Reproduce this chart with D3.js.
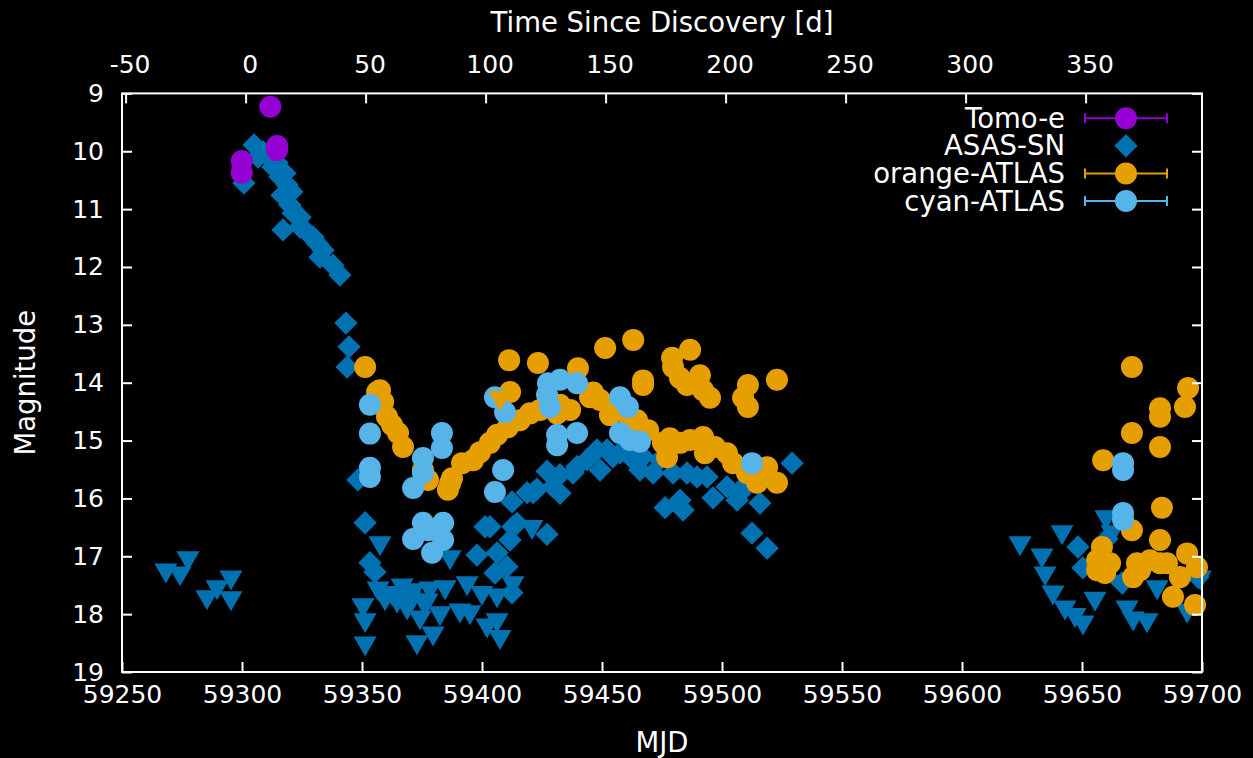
<!DOCTYPE html>
<html>
<head>
<meta charset="utf-8">
<script src="https://cdn.jsdelivr.net/npm/d3@7"></script>
<style>
  html, body { margin: 0; padding: 0; background: #000; }
  svg { display: block; }
  text { font-family: "DejaVu Sans", sans-serif; fill: #fff; }
</style>
</head>
<body>
<svg id="chart" width="1253" height="758"></svg>
<script>
// Light curve: magnitude vs MJD, with time since discovery on the top axis.
const discoveryMJD = 59301.5;

const xTicks = [59250, 59300, 59350, 59400, 59450, 59500, 59550, 59600, 59650, 59700];
const topTicks = [-50, 0, 50, 100, 150, 200, 250, 300, 350];
const yTicks = [9, 10, 11, 12, 13, 14, 15, 16, 17, 18, 19];

// Tomo-e detections
const tomoeMJD = [59311.8, 59314.6, 59314.6, 59299.9, 59299.9];
const tomoeMag = [9.23, 9.91, 9.98, 10.17, 10.37];

// ASAS-SN detections
const asasMJD = [
  59305.0, 59300.8, 59306.7, 59312.9, 59315.8, 59320.8, 59316.7, 59321.3, 59317.1, 59324.2,
  59329.6, 59332.5, 59337.9, 59340.8, 59308.8, 59311.7, 59314.6, 59317.9, 59318.8, 59320.0,
  59324.2, 59327.1, 59331.3, 59333.8, 59343.3, 59344.6, 59343.8, 59348.3, 59351.3, 59353.3,
  59355.4,
  59397.9, 59401.3, 59403.3, 59406.3, 59405.4, 59410.4, 59412.5, 59411.7, 59414.6, 59412.5,
  59412.9, 59418.8, 59421.3, 59422.9, 59427.1, 59427.1, 59429.6, 59432.5, 59432.5, 59437.9,
  59439.6, 59443.8, 59447.9, 59449.2, 59452.1, 59454.6, 59457.5, 59461.7, 59462.9, 59467.1,
  59465.8, 59471.3, 59476.3, 59483.8, 59482.5, 59479.6, 59485.4, 59489.6, 59493.8, 59496.3,
  59502.1, 59506.3, 59507.5, 59510.4, 59515.8, 59512.5, 59518.8, 59529.2, 59474.2,
  59648.3, 59650.4, 59666.7, 59698.3, 59660.4
];
const asasMag = [
  9.89, 10.55, 10.10, 10.27, 10.44, 10.70, 10.76, 11.07, 11.36, 11.31,
  11.48, 11.83, 11.97, 12.14, 10.01, 10.12, 10.20, 10.38, 10.58, 10.93,
  11.14, 11.40, 11.59, 11.71, 12.97, 13.38, 13.73, 15.68, 16.42, 17.11,
  17.27,
  16.98, 16.49, 16.49, 16.94, 17.29, 17.18, 17.63, 16.72, 16.43, 16.06,
  16.49, 15.90, 15.90, 15.84, 15.53, 16.62, 15.80, 15.91, 15.59, 15.56,
  15.45, 15.33, 15.16, 15.51, 15.16, 15.28, 15.21, 15.11, 15.33, 15.28,
  15.51, 15.56, 16.16, 16.20, 16.03, 15.56, 15.56, 15.63, 15.63, 15.99,
  15.80, 16.03, 15.91, 15.74, 16.08, 16.60, 16.86, 15.39, 15.33,
  16.84, 17.20, 17.46, 17.36, 16.70
];

// ASAS-SN upper limits
const asasLimMJD = [
  59268.3, 59274.2, 59277.5, 59285.4, 59289.6, 59295.4, 59295.4,
  59357.5, 59350.4, 59351.3, 59351.3, 59356.7, 59362.5, 59364.6, 59366.7, 59368.8, 59371.3,
  59372.9, 59374.2, 59375.4, 59378.3, 59379.6, 59382.5, 59384.6, 59386.7, 59390.8, 59393.8,
  59395.0, 59400.0, 59402.1, 59406.3, 59406.3, 59407.5, 59412.9, 59420.8, 59359.6, 59370.0,
  59377.1,
  59624.2, 59633.3, 59641.7, 59634.6, 59637.9, 59642.9, 59647.1, 59650.4, 59655.4, 59660.0,
  59662.5, 59667.1, 59668.8, 59671.3, 59677.1, 59681.3, 59693.8, 59699.2
];
const asasLimMag = [
  17.24, 17.29, 17.03, 17.70, 17.53, 17.36, 17.72,
  16.77, 17.84, 18.10, 18.50, 17.55, 17.63, 17.76, 17.50, 17.88, 17.58,
  18.48, 18.05, 17.76, 17.55, 18.33, 17.98, 17.53, 17.01, 17.93, 17.46,
  17.96, 17.63, 18.19, 17.67, 18.10, 18.39, 17.46, 16.49, 17.72, 17.72,
  17.76,
  16.77, 16.98, 16.58, 17.29, 17.62, 17.88, 18.01, 18.14, 17.73, 16.32,
  16.58, 17.44, 17.88, 18.07, 18.10, 17.53, 17.93, 17.36
];

// ATLAS o-band detections
const orangeMJD = [
  59351.3, 59356.3, 59358.8, 59360.4, 59357.5, 59365.0, 59367.1, 59375.4, 59377.5, 59385.8,
  59387.5, 59391.7, 59396.3, 59399.2, 59403.3, 59406.3, 59410.8, 59415.8, 59420.0, 59424.2,
  59411.3, 59411.7, 59423.3, 59440.0, 59451.3, 59463.0, 59467.1, 59467.1, 59431.3, 59436.7,
  59445.0, 59449.2, 59453.3, 59461.7, 59469.2, 59478.3, 59477.1, 59482.5, 59486.7, 59492.1,
  59492.9, 59497.1, 59502.1, 59504.6, 59510.4, 59514.6, 59515.8, 59518.8, 59522.9, 59479.2,
  59479.6, 59486.7, 59482.5, 59490.8, 59485.4, 59492.1, 59495.0, 59510.8, 59508.8, 59510.8,
  59522.9, 59454.6, 59432.5, 59446.3, 59458.8, 59464.6, 59475.4, 59362.5, 59386.7,
  59670.8, 59694.2, 59692.9, 59682.5, 59682.5, 59670.8, 59682.5, 59658.8, 59683.3, 59670.8,
  59682.5, 59658.3, 59656.3, 59661.7, 59656.3, 59672.9, 59674.2, 59678.3, 59682.5, 59685.4,
  59693.8, 59697.9, 59690.8, 59687.9, 59697.1, 59659.6, 59671.3
];
const orangeMag = [
  13.73, 14.16, 14.33, 14.59, 14.13, 14.87, 15.11, 15.51, 15.68, 15.85,
  15.65, 15.39, 15.34, 15.20, 15.04, 14.90, 14.77, 14.65, 14.53, 14.47,
  13.61, 14.16, 13.66, 13.75, 13.40, 13.26, 13.96, 14.04, 14.53, 14.47,
  14.25, 14.30, 14.56, 14.65, 14.82, 14.96, 15.29, 15.04, 14.99, 14.94,
  15.22, 15.11, 15.22, 15.39, 15.56, 15.73, 15.63, 15.46, 15.73, 13.57,
  13.73, 13.43, 13.92, 13.87, 14.04, 14.13, 14.26, 14.04, 14.26, 14.42,
  13.95, 14.47, 14.38, 14.17, 14.47, 14.65, 15.04, 14.73, 15.74,
  13.73, 14.09, 14.42, 14.44, 14.59, 14.87, 15.11, 15.34, 16.16, 16.55,
  16.72, 16.84, 17.07, 17.12, 17.24, 17.12, 17.24, 17.07, 17.12, 17.12,
  16.95, 17.19, 17.36, 17.70, 17.84, 17.29, 17.36
];

// ATLAS o-band upper limit
const orangeLimMJD = [59407.5];
const orangeLimMag = [14.26];

// ATLAS c-band detections
const cyanMJD = [
  59353.3, 59353.3, 59353.3, 59353.3, 59371.3, 59375.4, 59375.4, 59383.3, 59383.3, 59375.4,
  59383.8, 59371.3, 59383.8, 59379.2, 59377.5, 59405.4, 59409.6, 59408.8, 59405.4, 59427.5,
  59432.5, 59439.6, 59428.3, 59427.1, 59431.3, 59431.3, 59439.6, 59457.5, 59460.8, 59457.5,
  59461.7, 59465.8, 59512.5, 59667.1, 59667.1, 59667.1, 59667.1
];
const cyanMag = [
  14.38, 14.88, 15.47, 15.63, 15.82, 15.30, 15.56, 14.87, 15.13, 16.42,
  16.42, 16.70, 16.72, 16.94, 16.55, 14.25, 14.51, 15.51, 15.89, 14.01,
  13.95, 14.01, 14.42, 14.21, 14.90, 15.08, 14.87, 14.25, 14.42, 14.87,
  14.99, 15.02, 15.39, 15.39, 15.51, 16.25, 16.37
];

const legendNames = ["Tomo-e", "ASAS-SN", "orange-ATLAS", "cyan-ATLAS"];
const colors = { tomoe: "#9400d3", asas: "#0072b2", orange: "#e69f00", cyan: "#56b4e9" };

const svg = d3.select("#chart");
const W = 1253, H = 758;
const plot = { left: 122, right: 1202, top: 93.4, bottom: 672 };

svg.append("rect").attr("width", W).attr("height", H).attr("fill", "#000");

const x = d3.scaleLinear().domain([59250, 59700]).range([plot.left, plot.right]);
const x2 = d3.scaleLinear()
  .domain([59250 - discoveryMJD, 59700 - discoveryMJD])
  .range([plot.left, plot.right]);
const y = d3.scaleLinear().domain([9, 19]).range([plot.top, plot.bottom]);

const zip = (a, b) => a.map((v, i) => [v, b[i]]);

const R = 11;
const diamond = d3.symbol().type(d3.symbolSquare).size(16.5 * 16.5);
const triangle = d3.symbol().type(d3.symbolTriangle).size(230);

const marks = svg.append("g");

// ASAS-SN detections (diamonds)
marks.append("g").selectAll("path").data(zip(asasMJD, asasMag)).join("path")
  .attr("d", diamond)
  .attr("transform", d => `translate(${x(d[0])},${y(d[1])}) rotate(45)`)
  .attr("fill", colors.asas);

// ASAS-SN upper limits (downward triangles)
marks.append("g").selectAll("path").data(zip(asasLimMJD, asasLimMag)).join("path")
  .attr("d", triangle)
  .attr("transform", d => `translate(${x(d[0])},${y(d[1])}) rotate(180)`)
  .attr("fill", colors.asas);

// ATLAS o-band
marks.append("g").selectAll("circle").data(zip(orangeMJD, orangeMag)).join("circle")
  .attr("cx", d => x(d[0])).attr("cy", d => y(d[1])).attr("r", R)
  .attr("fill", colors.orange);

// ATLAS c-band
marks.append("g").selectAll("circle").data(zip(cyanMJD, cyanMag)).join("circle")
  .attr("cx", d => x(d[0])).attr("cy", d => y(d[1])).attr("r", R)
  .attr("fill", colors.cyan);

// ATLAS o-band upper limit
marks.append("g").selectAll("path").data(zip(orangeLimMJD, orangeLimMag)).join("path")
  .attr("d", triangle)
  .attr("transform", d => `translate(${x(d[0])},${y(d[1])}) rotate(180)`)
  .attr("fill", colors.orange);

// Tomo-e
marks.append("g").selectAll("circle").data(zip(tomoeMJD, tomoeMag)).join("circle")
  .attr("cx", d => x(d[0])).attr("cy", d => y(d[1])).attr("r", R)
  .attr("fill", colors.tomoe);

// Axes
const tickFont = 25;
const labelFont = 27.5;
const plain = d => String(d);   // ASCII hyphen for negatives
function styleAxis(g) {
  g.select(".domain").remove();
  g.selectAll(".tick line").attr("stroke", "#fff").attr("stroke-width", 2);
  g.selectAll(".tick text").attr("fill", "#fff")
    .style("font-size", tickFont + "px").style("font-family", "DejaVu Sans, sans-serif");
}

svg.append("g").attr("transform", `translate(0,${plot.bottom})`)
  .call(d3.axisBottom(x).tickValues(xTicks).tickFormat(plain).tickSize(-10).tickPadding(13))
  .call(styleAxis);

svg.append("g").attr("transform", `translate(0,${plot.top})`)
  .call(d3.axisTop(x2).tickValues(topTicks).tickFormat(plain).tickSize(-10).tickPadding(20))
  .call(styleAxis)
  .call(g => g.selectAll(".tick text").attr("dx", 4));

svg.append("g").attr("transform", `translate(${plot.left},0)`)
  .call(d3.axisLeft(y).tickValues(yTicks).tickFormat(plain).tickSize(-10).tickPadding(18))
  .call(styleAxis);

svg.append("g").attr("transform", `translate(${plot.right},0)`)
  .call(d3.axisRight(y).tickValues(yTicks).tickFormat("").tickSize(-10))
  .call(styleAxis);

// Plot border
svg.append("rect")
  .attr("x", plot.left).attr("y", plot.top)
  .attr("width", plot.right - plot.left).attr("height", plot.bottom - plot.top)
  .attr("fill", "none").attr("stroke", "#fff").attr("stroke-width", 2);

// Axis titles
const cx = (plot.left + plot.right) / 2;
svg.append("text").attr("x", cx).attr("y", 742).attr("dy", "0.35em")
  .attr("text-anchor", "middle").style("font-size", labelFont + "px").text("MJD");
svg.append("text").attr("x", cx).attr("y", 22).attr("dy", "0.35em")
  .attr("text-anchor", "middle").style("font-size", labelFont + "px").text("Time Since Discovery [d]");
svg.append("text")
  .attr("transform", `translate(25,${(plot.top + plot.bottom) / 2}) rotate(-90)`)
  .attr("dy", "0.35em").attr("text-anchor", "middle")
  .style("font-size", labelFont + "px").text("Magnitude");

// Legend
const legendRows = [
  { name: legendNames[0], color: colors.tomoe, kind: "errcircle" },
  { name: legendNames[1], color: colors.asas, kind: "diamond" },
  { name: legendNames[2], color: colors.orange, kind: "errcircle" },
  { name: legendNames[3], color: colors.cyan, kind: "errcircle" }
];
const legend = svg.append("g");
const rowY = d3.scaleLinear().domain([0, 3]).range([118.3, 201]);
legendRows.forEach((r, i) => {
  const ly = rowY(i);
  legend.append("text").attr("x", 1065).attr("y", ly).attr("dy", "0.35em")
    .attr("text-anchor", "end").style("font-size", labelFont + "px").text(r.name);
  if (r.kind === "errcircle") {
    legend.append("line").attr("x1", 1085).attr("x2", 1167).attr("y1", ly).attr("y2", ly)
      .attr("stroke", r.color).attr("stroke-width", 2);
    [1085, 1167].forEach(ex => legend.append("line")
      .attr("x1", ex).attr("x2", ex).attr("y1", ly - 5).attr("y2", ly + 5)
      .attr("stroke", r.color).attr("stroke-width", 2));
    legend.append("circle").attr("cx", 1126).attr("cy", ly).attr("r", R).attr("fill", r.color);
  } else {
    legend.append("path").attr("d", diamond)
      .attr("transform", `translate(1126,${ly}) rotate(45)`).attr("fill", r.color);
  }
});
</script>
</body>
</html>
